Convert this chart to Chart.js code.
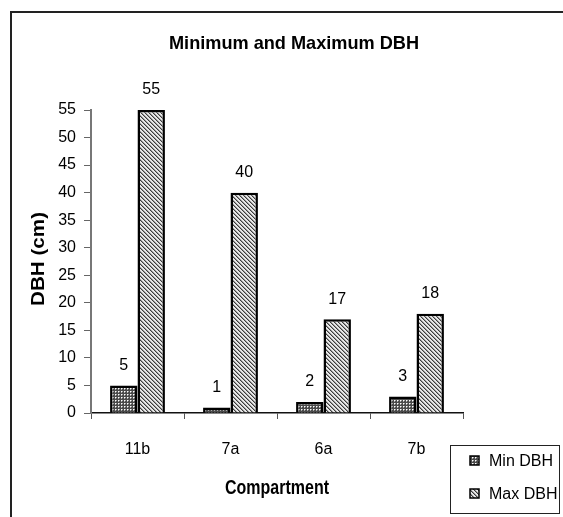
<!DOCTYPE html>
<html>
<head>
<meta charset="utf-8">
<script src="https://cdn.jsdelivr.net/npm/chart.js@4/dist/chart.umd.min.js"></script>
<style>
  html, body { margin: 0; padding: 0; background: #fff; }
  #wrap { position: relative; width: 563px; height: 517px; }
</style>
</head>
<body>
<div id="wrap"><canvas id="c" width="563" height="517"></canvas></div>
<script>
const compartments = ['11b', '7a', '6a', '7b'];
const minDBH = [5, 1, 2, 3];
const maxDBH = [55, 40, 17, 18];
const yTicks = [0, 5, 10, 15, 20, 25, 30, 35, 40, 45, 50, 55];

const FONT = '"Liberation Sans", Arial, sans-serif';

// Fill textures for the two series
function dotGrid() {
  const p = document.createElement('canvas');
  p.width = 3; p.height = 3;
  const g = p.getContext('2d');
  g.fillStyle = '#4a4a4a';
  g.fillRect(0, 0, 3, 3);
  g.fillStyle = '#fff';
  g.fillRect(1, 1, 1, 1);
  g.fillStyle = '#a8a8a8';
  g.fillRect(2, 1, 1, 1);
  g.fillRect(1, 2, 1, 1);
  return g.createPattern(p, 'repeat');
}
function diagLines() {
  const p = document.createElement('canvas');
  p.width = 4; p.height = 4;
  const g = p.getContext('2d');
  g.fillStyle = '#e8e8e8';
  g.fillRect(0, 0, 4, 4);
  g.fillStyle = '#3c3c3c';
  for (let i = 0; i < 4; i++) g.fillRect(i, i, 1, 1);
  g.fillStyle = '#9a9a9a';
  for (let i = 0; i < 4; i++) g.fillRect((i + 1) % 4, i, 1, 1);
  return g.createPattern(p, 'repeat');
}

const fills = [dotGrid(), diagLines()];

// Draws text centred at (x, y), squeezed or stretched to a given width
function fitText(ctx, text, x, y, font, width) {
  ctx.save();
  ctx.font = font;
  const w = ctx.measureText(text).width;
  ctx.translate(x, y);
  ctx.scale(width / w, 1);
  ctx.textAlign = 'center';
  ctx.textBaseline = 'middle';
  ctx.fillText(text, 0, 0);
  ctx.restore();
}

const decorations = {
  id: 'decorations',
  afterDraw(chart) {
    const ctx = chart.ctx;
    const area = chart.chartArea;
    ctx.save();
    // outer frame
    ctx.strokeStyle = '#222';
    ctx.lineWidth = 2;
    ctx.strokeRect(11, 12, 600, 600);

    ctx.fillStyle = '#000';
    // title
    fitText(ctx, 'Minimum and Maximum DBH', 294, 44, 'bold 19px ' + FONT, 250);

    // axis titles
    fitText(ctx, 'Compartment', (area.left + area.right) / 2, 488, 'bold 20px ' + FONT, 104);
    ctx.save();
    ctx.translate(39, 259);
    ctx.rotate(-Math.PI / 2);
    fitText(ctx, 'DBH (cm)', 0, 0, 'bold 18px ' + FONT, 94);
    ctx.restore();

    // value labels above bars
    ctx.textAlign = 'center';
    ctx.textBaseline = 'middle';
    ctx.font = '16px ' + FONT;
    chart.data.datasets.forEach((ds, di) => {
      const meta = chart.getDatasetMeta(di);
      meta.data.forEach((bar, i) => {
        ctx.fillText(String(ds.data[i]), bar.x, bar.y - 20);
      });
    });

    // legend box
    ctx.strokeStyle = '#222';
    ctx.lineWidth = 1;
    ctx.strokeRect(450.5, 445.5, 109, 68);
    ctx.textAlign = 'left';
    ctx.font = '16px ' + FONT;
    const rows = [461, 494];
    chart.data.datasets.forEach((ds, di) => {
      const y = rows[di];
      ctx.fillStyle = ds.backgroundColor;
      ctx.fillRect(470, y - 5, 9, 9);
      ctx.strokeStyle = '#000';
      ctx.lineWidth = 1.5;
      ctx.strokeRect(470, y - 5, 9, 9);
      ctx.fillStyle = '#000';
      ctx.fillText(ds.label, 489, y + 1);
    });
    ctx.restore();
  }
};

new Chart(document.getElementById('c'), {
  type: 'bar',
  data: {
    labels: compartments,
    datasets: [
      { label: 'Min DBH', data: minDBH, backgroundColor: fills[0], borderColor: '#000', borderWidth: 2.5, borderSkipped: 'bottom' },
      { label: 'Max DBH', data: maxDBH, backgroundColor: fills[1], borderColor: '#000', borderWidth: 2.5, borderSkipped: 'bottom' }
    ]
  },
  options: {
    responsive: false,
    animation: false,
    devicePixelRatio: 1,
    layout: { padding: { left: 0, top: 110, right: 100, bottom: 0 } },
    datasets: { bar: { categoryPercentage: 0.59, barPercentage: 1.0 } },
    plugins: { legend: { display: false }, title: { display: false }, tooltip: { enabled: false } },
    scales: {
      x: {
        grid: { display: true, drawOnChartArea: false, offset: true, tickLength: 6, color: '#555', lineWidth: 1 },
        border: { display: true, color: '#111', width: 1.5 },
        ticks: { color: '#000', font: { family: FONT, size: 16 }, padding: 21, maxRotation: 0 },
        afterFit(scale) { scale.height = 517 - 413; }
      },
      y: {
        min: 0, max: 55,
        afterBuildTicks(scale) { scale.ticks = yTicks.map(v => ({ value: v })); },
        grid: { display: true, drawOnChartArea: false, tickLength: 7, color: '#666', lineWidth: 1 },
        border: { display: true, color: '#777', width: 2 },
        ticks: { color: '#000', font: { family: FONT, size: 16 }, padding: 8 },
        afterFit(scale) { scale.width = 91; }
      }
    }
  },
  plugins: [decorations]
});
</script>
</body>
</html>
